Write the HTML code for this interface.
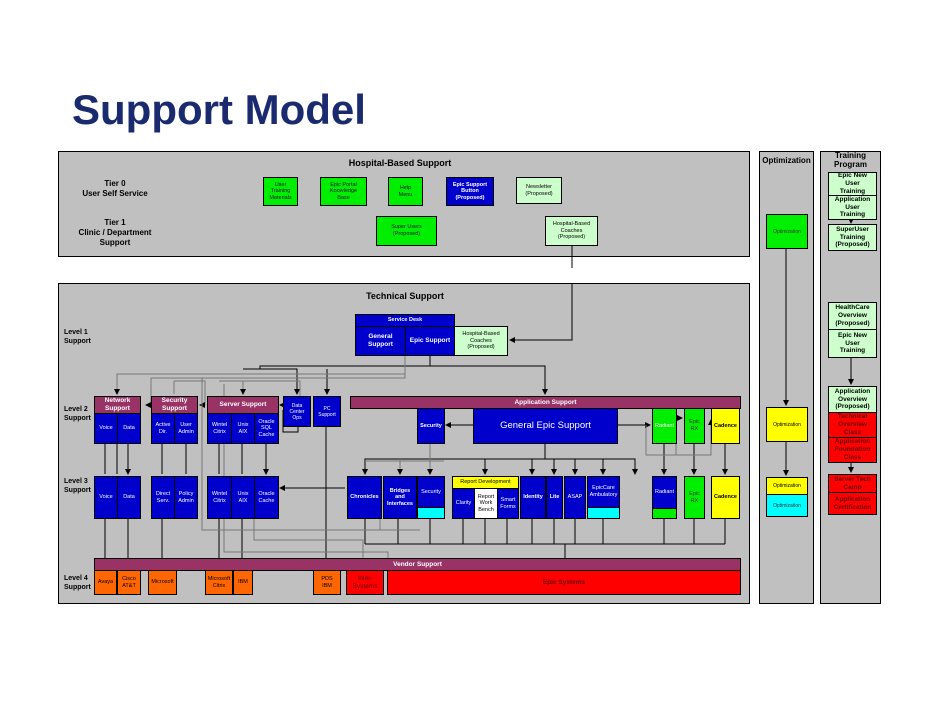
<!DOCTYPE html>
<html><head><meta charset="utf-8"><style>
body{margin:0;width:942px;height:728px;background:#fff;position:relative;overflow:hidden;font-family:"Liberation Sans",sans-serif}
.p{position:absolute;background:#c0c0c0;border:1px solid #000;box-sizing:border-box}
.b{position:absolute;box-sizing:border-box;border:1px solid #000;display:flex;align-items:center;justify-content:center;text-align:center;font-size:5.5px;line-height:1.2;color:#fff;overflow:hidden}
.bl{background:#0000cc}.g{background:#00ee00;color:#113}.lg{background:#ccffcc;color:#000}.y{background:#ffff00;color:#000}.c{background:#00ffff}.m{background:#993366;font-weight:bold}.o{background:#ff6600;color:#000}.r{background:#ff0000;color:#600}
.w{background:#fff;color:#000}
.bd{font-weight:bold}
.t{position:absolute;font-size:8px;font-weight:bold;color:#000;text-align:center;line-height:1.25}
.tr{font-size:7px;font-weight:bold;color:#000}
</style></head><body>
<div style="position:absolute;left:72px;top:86px;font-size:42px;font-weight:bold;color:#1a2a6e">Support Model</div>

<div class="p" style="left:58px;top:151px;width:692px;height:106px"></div>
<div class="p" style="left:58px;top:283px;width:692px;height:321px"></div>
<div class="p" style="left:759px;top:151px;width:55px;height:453px"></div>
<div class="p" style="left:820px;top:151px;width:61px;height:453px"></div>

<svg style="position:absolute;left:0;top:0" width="942" height="728">
<defs><marker id="a" markerWidth="6" markerHeight="6" refX="5" refY="3" orient="auto"><path d="M0,0L6,3L0,6z" fill="#000"/></marker>
<marker id="ag" markerWidth="6" markerHeight="6" refX="5" refY="3" orient="auto"><path d="M0,0L6,3L0,6z" fill="#000"/></marker></defs>
<g stroke="#000" stroke-width="1" fill="none">
<path d="M572 257V268 M572 283V340H510" marker-end="url(#a)"/>
<path d="M572 246V257"/>
<path d="M430 355V366H545V394" marker-end="url(#a)"/>
<path d="M243 369H297V394" marker-end="url(#a)"/>
<path d="M260 369V366H430"/>
<path d="M327 369V394" marker-end="url(#a)"/>
<path d="M545 443V459H365V474" marker-end="url(#a)"/>
<path d="M545 459H635V474" marker-end="url(#a)"/>
<path d="M485 459V474" marker-end="url(#a)"/>
<path d="M532 459V474" marker-end="url(#a)"/>
<path d="M554 459V474" marker-end="url(#a)"/>
<path d="M575 459V474" marker-end="url(#a)"/>
<path d="M603 459V474" marker-end="url(#a)"/>
<path d="M473 425H446" marker-end="url(#a)"/>
<path d="M617 425H650" marker-end="url(#a)"/>
<path d="M676 418H682" marker-end="url(#a)"/>
<path d="M664 443V474" marker-end="url(#a)"/>
<path d="M694 443V474" marker-end="url(#a)"/>
<path d="M725 443V474" marker-end="url(#a)"/>
<path d="M117 443V474 M105 443V474 M128 443V474" marker-end="url(#a)"/>
<path d="M162 443V474 M186 443V474 M219 443V474 M242 443V474 M266 443V474" marker-end="url(#a)"/>
<path d="M105 518V568 M128 518V568 M162 518V568 M219 518V568 M242 518V568 M326 426V568" marker-end="url(#a)"/>
<path d="M365 518V544 M398 518V544 M430 518V544 M463 518V544 M485 518V544 M507 518V544 M532 518V544 M554 518V544 M575 518V544 M603 518V544 M664 518V544 M694 518V544 M725 518V544 M365 544H725"/>
<path d="M565 544V568" marker-end="url(#a)"/>
<path d="M345 488H280" marker-end="url(#a)"/>
<path d="M283 405H280" marker-end="url(#a)"/>
<path d="M283 410V432H298V426"/>
<path d="M786 248V405" marker-end="url(#a)"/>
<path d="M786 441V475" marker-end="url(#a)"/>
<path d="M851 357V384" marker-end="url(#a)"/>
<path d="M851 462V472" marker-end="url(#a)"/>
<path d="M851 219V223" marker-end="url(#a)"/>
</g>
<g stroke="#777" stroke-width="1" fill="none">
<path d="M405 355V374H117V394" marker-end="url(#ag)"/>
<path d="M405 374V378H151V405H146" marker-end="url(#ag)"/>
<path d="M174 381V394 M219 381H300V405" />
<path d="M174 381H205V405H200" marker-end="url(#ag)"/>
<path d="M243 381V394" marker-end="url(#ag)"/>
<path d="M202 378V530H380V518 M380 530H420"/>
<path d="M224 384V552H388V566" marker-end="url(#ag)"/>
<path d="M444 461H365"/>
<path d="M430 443V474" marker-end="url(#ag)"/>
<path d="M400 459V474" marker-end="url(#ag)"/>
<path d="M646 425V455H676V418 M676 455H711V420" marker-end="url(#ag)"/>
<path d="M254 518V540H363V568" marker-end="url(#ag)"/>
</g>
</svg>

<div class="t" style="left:300px;top:158px;width:200px;font-size:9px">Hospital-Based Support</div>
<div class="t" style="left:60px;top:179px;width:110px">Tier 0<br>User Self Service</div>
<div class="t" style="left:60px;top:218px;width:110px">Tier 1<br>Clinic / Department<br>Support</div>
<div class="b g" style="left:263px;top:177px;width:35px;height:29px">User<br>Training<br>Materials</div>
<div class="b g" style="left:320px;top:177px;width:47px;height:29px">Epic Portal<br>Knowledge<br>Base</div>
<div class="b g" style="left:388px;top:177px;width:35px;height:29px">Help<br>Menu</div>
<div class="b bl bd" style="left:446px;top:177px;width:48px;height:29px">Epic Support<br>Button<br>(Proposed)</div>
<div class="b lg" style="left:516px;top:177px;width:46px;height:27px">Newsletter<br>(Proposed)</div>
<div class="b g" style="left:376px;top:216px;width:61px;height:30px">Super Users<br>(Proposed)</div>
<div class="b lg" style="left:545px;top:216px;width:53px;height:30px">Hospital-Based<br>Coaches<br>(Proposed)</div>

<div class="t" style="left:300px;top:291px;width:210px;font-size:9px">Technical Support</div>
<div class="t tr" style="left:64px;top:329px;text-align:left">Level 1<br>Support</div>
<div class="t tr" style="left:64px;top:406px;text-align:left">Level 2<br>Support</div>
<div class="t tr" style="left:64px;top:478px;text-align:left">Level 3<br>Support</div>
<div class="t tr" style="left:64px;top:575px;text-align:left">Level 4<br>Support</div>

<div class="b bl bd" style="left:355px;top:314px;width:100px;height:13px">Service Desk</div>
<div class="b bl bd" style="left:355px;top:326px;width:51px;height:30px;font-size:6.5px">General<br>Support</div>
<div class="b bl bd" style="left:405px;top:326px;width:50px;height:30px;font-size:6.5px">Epic Support</div>
<div class="b lg" style="left:454px;top:326px;width:54px;height:30px">Hospital-Based<br>Coaches<br>(Proposed)</div>

<div class="b m" style="left:94px;top:396px;width:47px;height:18px;font-size:6.5px">Network<br>Support</div>
<div class="b bl" style="left:94px;top:413px;width:24px;height:31px">Voice</div>
<div class="b bl" style="left:117px;top:413px;width:24px;height:31px">Data</div>
<div class="b m" style="left:151px;top:396px;width:47px;height:18px;font-size:6.5px">Security<br>Support</div>
<div class="b bl" style="left:151px;top:413px;width:24px;height:31px">Active<br>Dir.</div>
<div class="b bl" style="left:174px;top:413px;width:24px;height:31px">User<br>Admin</div>
<div class="b m" style="left:207px;top:396px;width:72px;height:18px;font-size:6.5px">Server Support</div>
<div class="b bl" style="left:207px;top:413px;width:25px;height:31px">Wintel<br>Citrix</div>
<div class="b bl" style="left:231px;top:413px;width:24px;height:31px">Unix<br>AIX</div>
<div class="b bl" style="left:254px;top:413px;width:25px;height:31px">Oracle<br>SQL<br>Cache</div>
<div class="b bl" style="left:283px;top:396px;width:28px;height:31px;font-size:5px">Data<br>Center<br>Ops</div>
<div class="b bl" style="left:313px;top:396px;width:28px;height:31px;font-size:5px">PC<br>Support</div>

<div class="b m" style="left:350px;top:396px;width:391px;height:13px;font-size:6.5px">Application Support</div>
<div class="b bl bd" style="left:417px;top:408px;width:28px;height:36px">Security</div>
<div class="b bl" style="left:473px;top:408px;width:145px;height:36px;font-size:9.5px">General Epic Support</div>
<div class="b g" style="left:652px;top:408px;width:25px;height:36px;color:#fff">Radiant</div>
<div class="b g" style="left:684px;top:408px;width:21px;height:36px;color:#333">Epic<br>RX</div>
<div class="b y bd" style="left:711px;top:408px;width:29px;height:36px">Cadence</div>

<div class="b bl" style="left:94px;top:476px;width:24px;height:43px">Voice</div>
<div class="b bl" style="left:117px;top:476px;width:24px;height:43px">Data</div>
<div class="b bl" style="left:151px;top:476px;width:24px;height:43px">Direct<br>Serv.</div>
<div class="b bl" style="left:174px;top:476px;width:24px;height:43px">Policy<br>Admin</div>
<div class="b bl" style="left:207px;top:476px;width:25px;height:43px">Wintel<br>Citrix</div>
<div class="b bl" style="left:231px;top:476px;width:24px;height:43px">Unix<br>AIX</div>
<div class="b bl" style="left:254px;top:476px;width:25px;height:43px">Oracle<br>Cache</div>
<div class="b bl bd" style="left:347px;top:476px;width:35px;height:43px">Chronicles</div>
<div class="b bl bd" style="left:383px;top:476px;width:34px;height:43px">Bridges<br>and<br>Interfaces</div>
<div class="b bl" style="left:417px;top:476px;width:28px;height:32px">Security</div>
<div class="b c" style="left:417px;top:507px;width:28px;height:12px"></div>
<div class="b y" style="left:452px;top:476px;width:67px;height:13px">Report Development</div>
<div class="b bl" style="left:452px;top:488px;width:23px;height:31px">Clarity</div>
<div class="b w" style="left:474px;top:488px;width:24px;height:31px">Report<br>Work<br>Bench</div>
<div class="b bl" style="left:497px;top:488px;width:22px;height:31px">Smart<br>Forms</div>
<div class="b bl bd" style="left:520px;top:476px;width:26px;height:43px">Identity</div>
<div class="b bl bd" style="left:546px;top:476px;width:17px;height:43px">Lite</div>
<div class="b bl" style="left:564px;top:476px;width:22px;height:43px">ASAP</div>
<div class="b bl" style="left:587px;top:476px;width:33px;height:32px">EpicCare<br>Ambulatory</div>
<div class="b c" style="left:587px;top:507px;width:33px;height:12px"></div>
<div class="b bl" style="left:652px;top:476px;width:25px;height:33px">Radiant</div>
<div class="b g" style="left:652px;top:508px;width:25px;height:11px"></div>
<div class="b g" style="left:684px;top:476px;width:21px;height:43px;color:#333">Epic<br>RX</div>
<div class="b y bd" style="left:711px;top:476px;width:29px;height:43px">Cadence</div>

<div class="b m" style="left:94px;top:558px;width:647px;height:13px;font-size:6.5px">Vendor Support</div>
<div class="b o" style="left:94px;top:570px;width:23px;height:25px">Avaya</div>
<div class="b o" style="left:117px;top:570px;width:24px;height:25px">Cisco<br>AT&amp;T</div>
<div class="b o" style="left:148px;top:570px;width:29px;height:25px">Microsoft</div>
<div class="b o" style="left:205px;top:570px;width:28px;height:25px">Microsoft<br>Citrix</div>
<div class="b o" style="left:233px;top:570px;width:20px;height:25px">IBM</div>
<div class="b o" style="left:313px;top:570px;width:28px;height:25px">PDS<br>IBM</div>
<div class="b r" style="left:346px;top:570px;width:38px;height:25px;font-size:6.5px">Inter-<br>Systems</div>
<div class="b r bd" style="left:387px;top:570px;width:354px;height:25px;font-size:6.5px">Epic Systems</div>

<div class="t" style="left:759px;top:156px;width:55px;font-size:8px">Optimization</div>
<div class="b g" style="left:766px;top:214px;width:42px;height:35px;color:#333;font-size:5px">Optimization</div>
<div class="b y" style="left:766px;top:407px;width:42px;height:35px;font-size:5px">Optimization</div>
<div class="b y" style="left:766px;top:477px;width:42px;height:18px;font-size:5px">Optimization</div>
<div class="b c" style="left:766px;top:494px;width:42px;height:23px;color:#333;font-size:5px">Optimization</div>

<div class="t" style="left:820px;top:151px;width:61px;font-size:8px;line-height:1.15">Training<br>Program</div>
<div class="b lg bd" style="left:828px;top:172px;width:49px;height:24px;font-size:6.5px">Epic New<br>User<br>Training</div>
<div class="b lg bd" style="left:828px;top:195px;width:49px;height:25px;font-size:6.5px">Application<br>User<br>Training</div>
<div class="b lg bd" style="left:828px;top:224px;width:49px;height:27px;font-size:6.5px">SuperUser<br>Training<br>(Proposed)</div>
<div class="b lg bd" style="left:828px;top:302px;width:49px;height:28px;font-size:6.5px">HealthCare<br>Overview<br>(Proposed)</div>
<div class="b lg bd" style="left:828px;top:329px;width:49px;height:29px;font-size:6.5px">Epic New<br>User<br>Training</div>
<div class="b lg bd" style="left:828px;top:386px;width:49px;height:27px;font-size:6.5px">Application<br>Overview<br>(Proposed)</div>
<div class="b r bd" style="left:828px;top:412px;width:49px;height:26px;font-size:6.5px">Technical<br>Overview<br>Class</div>
<div class="b r bd" style="left:828px;top:437px;width:49px;height:26px;font-size:6.5px">Application<br>Foundation<br>Class</div>
<div class="b r bd" style="left:828px;top:474px;width:49px;height:19px;font-size:6.5px">Server Tech<br>Camp</div>
<div class="b r bd" style="left:828px;top:492px;width:49px;height:23px;font-size:6.5px">Application<br>Certification</div>
</body></html>
